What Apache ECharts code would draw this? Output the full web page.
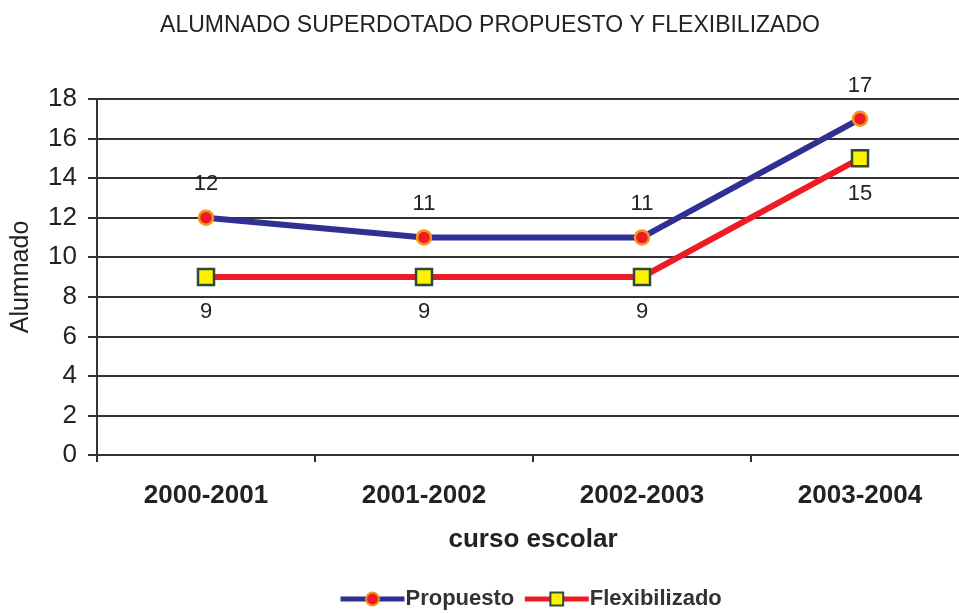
<!DOCTYPE html>
<html>
<head>
<meta charset="utf-8">
<script src="https://cdn.jsdelivr.net/npm/echarts@6/dist/echarts.min.js"></script>
<style>
  html, body { margin: 0; padding: 0; background: #fff; }
  #chart { width: 959px; height: 613px; }
</style>
</head>
<body>
<div id="chart"></div>
<script>
// valores
const cursos = ['2000-2001', '2001-2002', '2002-2003', '2003-2004'];
const propuesto = [12, 11, 11, 17];
const flexibilizado = [9, 9, 9, 15];

const chart = echarts.init(document.getElementById('chart'));
const txt = '#222';
const font = 'Liberation Sans, Arial, sans-serif';

chart.setOption({
  animation: false,
  textStyle: { fontFamily: font },
  title: {
    text: 'ALUMNADO SUPERDOTADO PROPUESTO Y FLEXIBILIZADO',
    left: 485, top: 9, textAlign: 'center',
    textStyle: { fontSize: 23, fontWeight: 'normal', color: txt, fontFamily: font },
  },
  legend: {
    bottom: -2, left: 333,
    itemWidth: 64, itemHeight: 16, itemGap: 8,
    lineStyle: { width: 5 },
    textStyle: { fontSize: 22, fontWeight: 'bold', color: '#333', fontFamily: font, padding: [0, 0, 0, -4] },
    data: ['Propuesto', 'Flexibilizado'],
  },
  grid: { left: 97, top: 99, width: 872, height: 356, outerBoundsMode: 'none', containLabel: false },
  xAxis: {
    type: 'category', data: cursos, boundaryGap: true,
    name: 'curso escolar', nameLocation: 'middle', nameGap: 72,
    nameTextStyle: { fontSize: 26, fontWeight: 'bold', color: txt, fontFamily: font },
    axisLine: { lineStyle: { color: '#333', width: 2 } },
    axisTick: { show: true, length: 7, lineStyle: { color: '#333', width: 2 } },
    axisLabel: { fontSize: 26, fontWeight: 'bold', color: txt, margin: 28, fontFamily: font },
  },
  yAxis: {
    type: 'value', min: 0, max: 18, interval: 2,
    name: 'Alumnado', nameLocation: 'middle', nameGap: 63, nameRotate: 90,
    nameTextStyle: { fontSize: 25, color: txt, fontFamily: font },
    axisLine: { show: true, lineStyle: { color: '#333', width: 2 } },
    axisTick: { show: true, length: 9, lineStyle: { color: '#333', width: 2 } },
    axisLabel: { fontSize: 26, color: txt, margin: 20, fontFamily: font },
    splitLine: { show: true, lineStyle: { color: '#333', width: 2 } },
  },
  series: [
    {
      name: 'Propuesto', type: 'line', data: propuesto,
      lineStyle: { color: '#2e3192', width: 6 },
      itemStyle: { color: '#ed1c24', borderColor: '#f7941d', borderWidth: 2.5 },
      symbol: 'circle', symbolSize: 14,
      label: { show: true, position: 'top', distance: 14, fontSize: 22, color: txt, fontFamily: font },
      z: 3,
    },
    {
      name: 'Flexibilizado', type: 'line', data: flexibilizado,
      lineStyle: { color: '#ed1c24', width: 6 },
      itemStyle: { color: '#fff200', borderColor: '#2d4a3a', borderWidth: 2.5 },
      symbol: 'rect', symbolSize: 16,
      label: { show: true, position: 'bottom', distance: 15, fontSize: 22, color: txt, fontFamily: font },
      z: 2,
    },
  ],
});
</script>
</body>
</html>
